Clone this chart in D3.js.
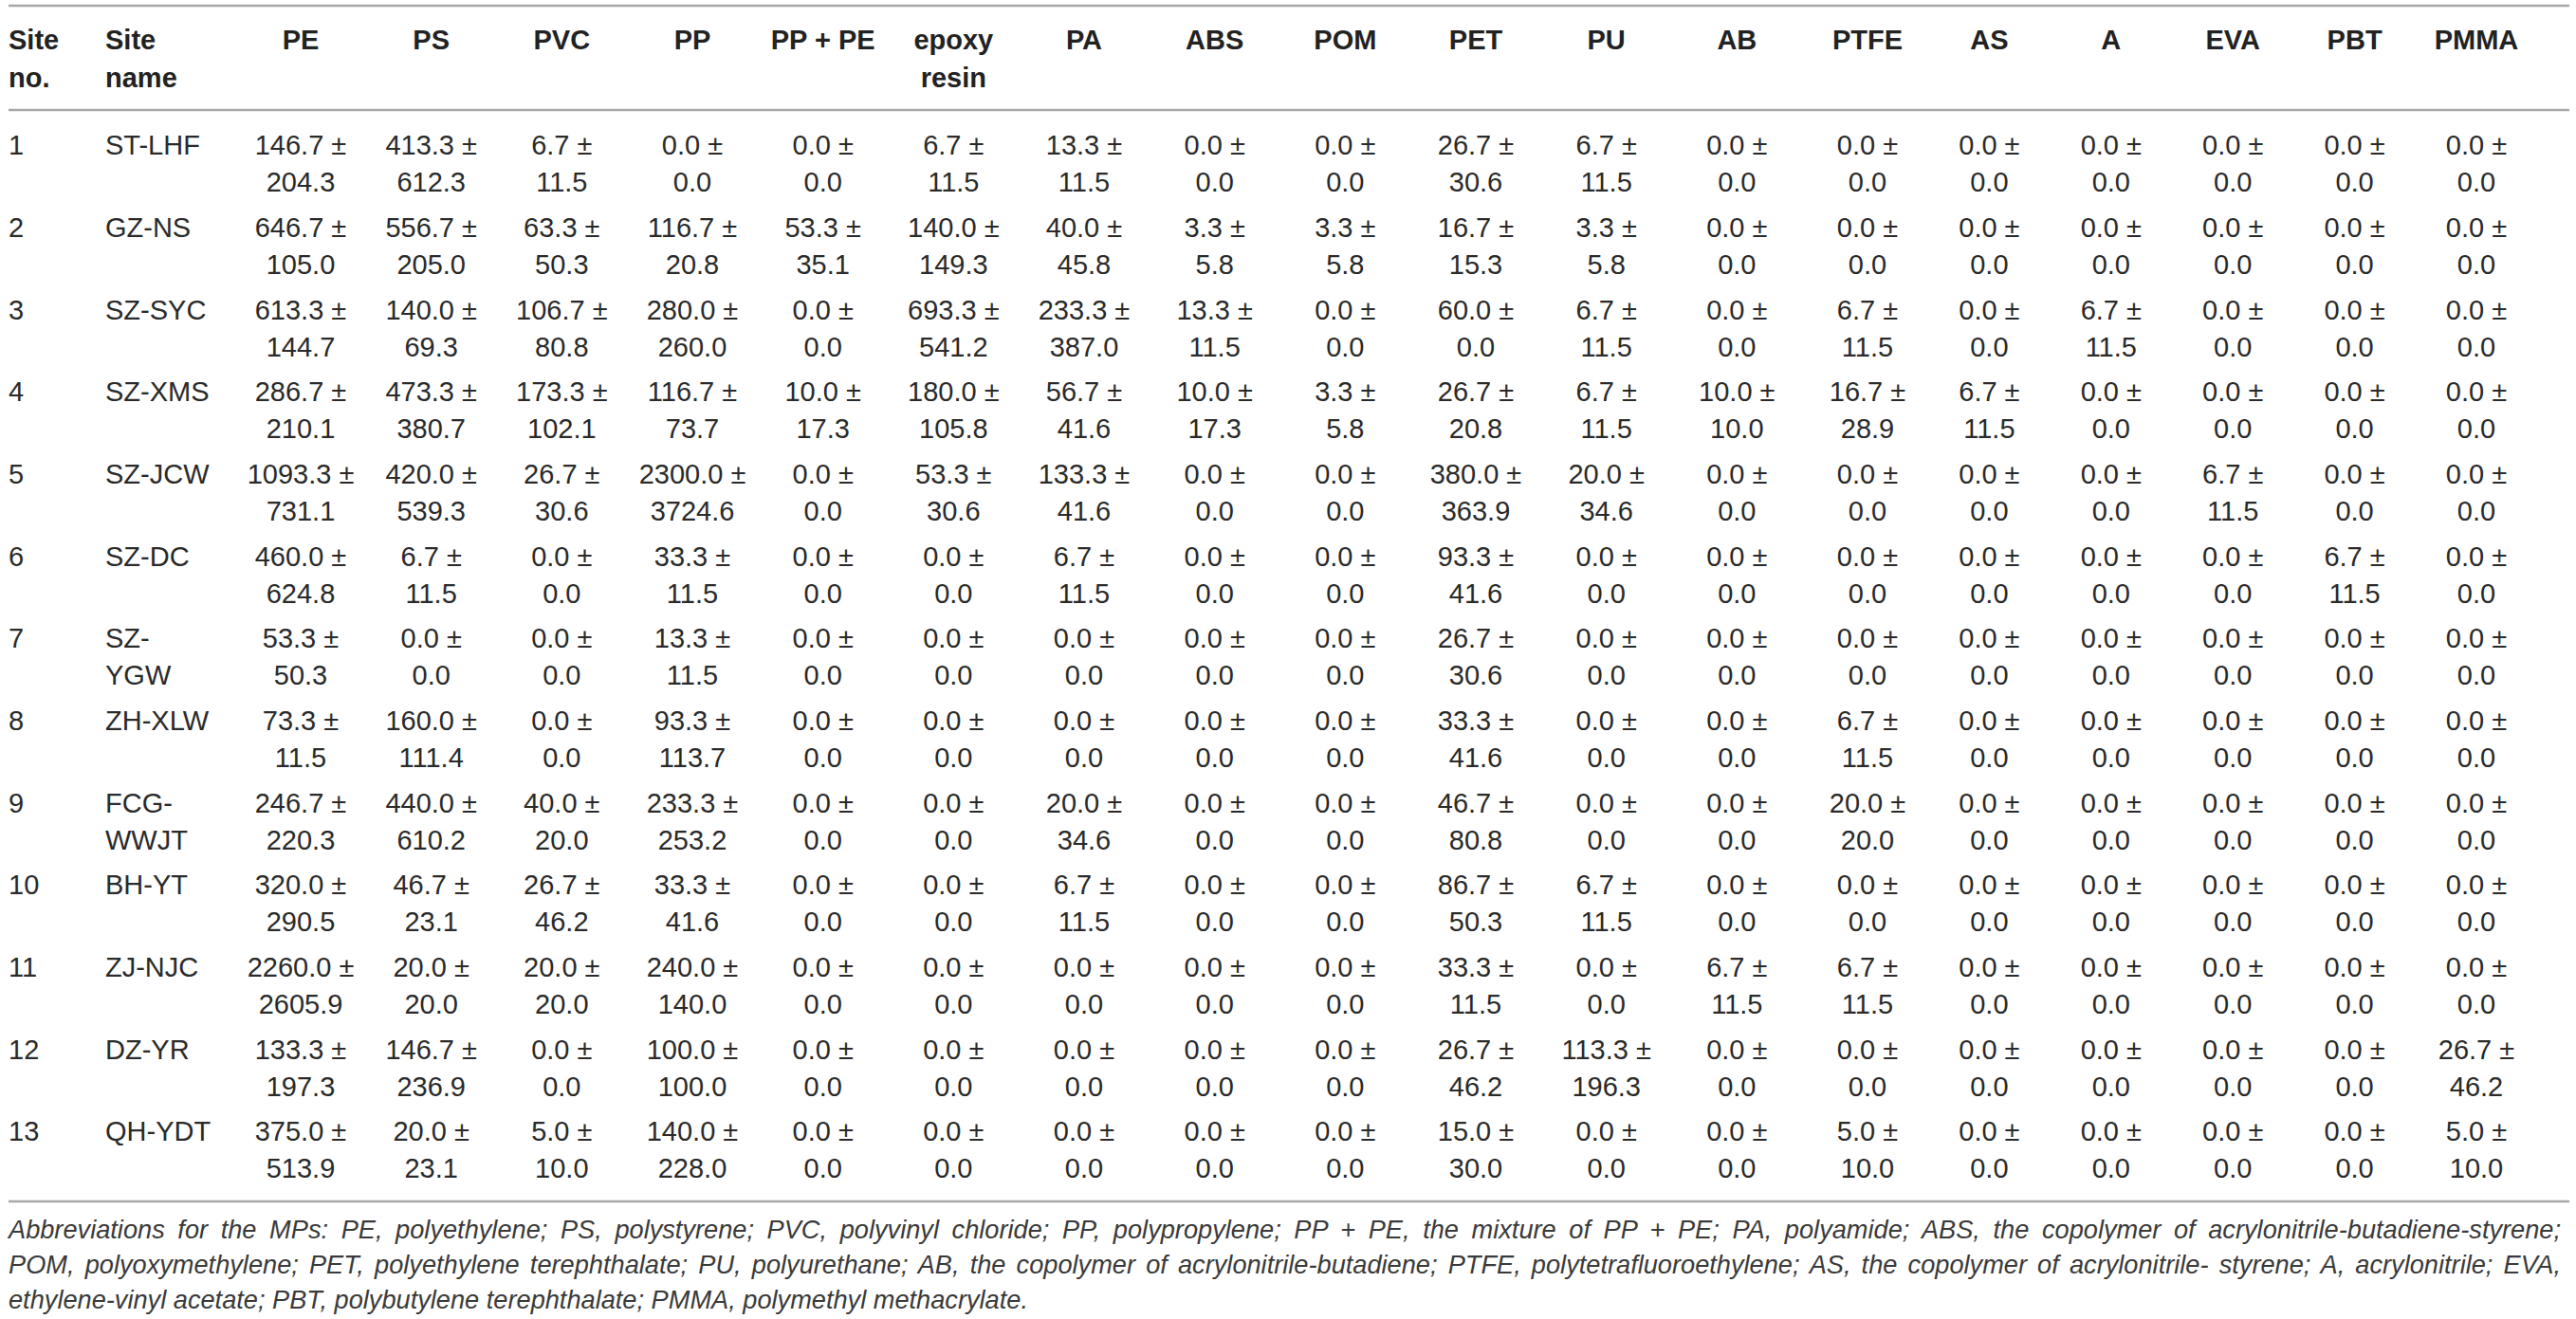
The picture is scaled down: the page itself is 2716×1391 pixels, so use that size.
<!DOCTYPE html>
<html lang="en">
<head>
  <meta charset="UTF-8" />
  <title>Microplastic abundance by site</title>
  <style>
    body { margin: 0; background: #fff; }
    svg { display: block; }
    text { font-family: "Liberation Sans", Arial, sans-serif; fill: #2a2a2a; }
    .head { font-weight: bold; font-size: 29px; fill: #222; }
    .cell { font-size: 29px; }
    .note { font-size: 27.2px; font-style: italic; fill: #3a3a3a; }
    .rule { stroke: #a8a8a8; stroke-width: 2.5px; }
  </style>
</head>
<body>
  <svg></svg>
  <script src="https://d3js.org/d3.v7.min.js"></script>
  <script>
    const W = 2716, H = 1391;

    const siteNo = ["1", "2", "3", "4", "5", "6", "7", "8", "9", "10", "11", "12", "13"];
    const siteNames = ["ST-LHF", "GZ-NS", "SZ-SYC", "SZ-XMS", "SZ-JCW", "SZ-DC", "SZ-YGW",
      "ZH-XLW", "FCG-WWJT", "BH-YT", "ZJ-NJC", "DZ-YR", "QH-YDT"];
    const polymers = ["PE", "PS", "PVC", "PP", "PP + PE", "epoxy resin", "PA", "ABS", "POM",
      "PET", "PU", "AB", "PTFE", "AS", "A", "EVA", "PBT", "PMMA"];

    // mean values, one row per site, columns in the order of `polymers`
    const means = [
      [146.7, 413.3, 6.7, 0.0, 0.0, 6.7, 13.3, 0.0, 0.0, 26.7, 6.7, 0.0, 0.0, 0.0, 0.0, 0.0, 0.0, 0.0],
      [646.7, 556.7, 63.3, 116.7, 53.3, 140.0, 40.0, 3.3, 3.3, 16.7, 3.3, 0.0, 0.0, 0.0, 0.0, 0.0, 0.0, 0.0],
      [613.3, 140.0, 106.7, 280.0, 0.0, 693.3, 233.3, 13.3, 0.0, 60.0, 6.7, 0.0, 6.7, 0.0, 6.7, 0.0, 0.0, 0.0],
      [286.7, 473.3, 173.3, 116.7, 10.0, 180.0, 56.7, 10.0, 3.3, 26.7, 6.7, 10.0, 16.7, 6.7, 0.0, 0.0, 0.0, 0.0],
      [1093.3, 420.0, 26.7, 2300.0, 0.0, 53.3, 133.3, 0.0, 0.0, 380.0, 20.0, 0.0, 0.0, 0.0, 0.0, 6.7, 0.0, 0.0],
      [460.0, 6.7, 0.0, 33.3, 0.0, 0.0, 6.7, 0.0, 0.0, 93.3, 0.0, 0.0, 0.0, 0.0, 0.0, 0.0, 6.7, 0.0],
      [53.3, 0.0, 0.0, 13.3, 0.0, 0.0, 0.0, 0.0, 0.0, 26.7, 0.0, 0.0, 0.0, 0.0, 0.0, 0.0, 0.0, 0.0],
      [73.3, 160.0, 0.0, 93.3, 0.0, 0.0, 0.0, 0.0, 0.0, 33.3, 0.0, 0.0, 6.7, 0.0, 0.0, 0.0, 0.0, 0.0],
      [246.7, 440.0, 40.0, 233.3, 0.0, 0.0, 20.0, 0.0, 0.0, 46.7, 0.0, 0.0, 20.0, 0.0, 0.0, 0.0, 0.0, 0.0],
      [320.0, 46.7, 26.7, 33.3, 0.0, 0.0, 6.7, 0.0, 0.0, 86.7, 6.7, 0.0, 0.0, 0.0, 0.0, 0.0, 0.0, 0.0],
      [2260.0, 20.0, 20.0, 240.0, 0.0, 0.0, 0.0, 0.0, 0.0, 33.3, 0.0, 6.7, 6.7, 0.0, 0.0, 0.0, 0.0, 0.0],
      [133.3, 146.7, 0.0, 100.0, 0.0, 0.0, 0.0, 0.0, 0.0, 26.7, 113.3, 0.0, 0.0, 0.0, 0.0, 0.0, 0.0, 26.7],
      [375.0, 20.0, 5.0, 140.0, 0.0, 0.0, 0.0, 0.0, 0.0, 15.0, 0.0, 0.0, 5.0, 0.0, 0.0, 0.0, 0.0, 5.0]
    ];

    // standard deviations, same layout
    const sds = [
      [204.3, 612.3, 11.5, 0.0, 0.0, 11.5, 11.5, 0.0, 0.0, 30.6, 11.5, 0.0, 0.0, 0.0, 0.0, 0.0, 0.0, 0.0],
      [105.0, 205.0, 50.3, 20.8, 35.1, 149.3, 45.8, 5.8, 5.8, 15.3, 5.8, 0.0, 0.0, 0.0, 0.0, 0.0, 0.0, 0.0],
      [144.7, 69.3, 80.8, 260.0, 0.0, 541.2, 387.0, 11.5, 0.0, 0.0, 11.5, 0.0, 11.5, 0.0, 11.5, 0.0, 0.0, 0.0],
      [210.1, 380.7, 102.1, 73.7, 17.3, 105.8, 41.6, 17.3, 5.8, 20.8, 11.5, 10.0, 28.9, 11.5, 0.0, 0.0, 0.0, 0.0],
      [731.1, 539.3, 30.6, 3724.6, 0.0, 30.6, 41.6, 0.0, 0.0, 363.9, 34.6, 0.0, 0.0, 0.0, 0.0, 11.5, 0.0, 0.0],
      [624.8, 11.5, 0.0, 11.5, 0.0, 0.0, 11.5, 0.0, 0.0, 41.6, 0.0, 0.0, 0.0, 0.0, 0.0, 0.0, 11.5, 0.0],
      [50.3, 0.0, 0.0, 11.5, 0.0, 0.0, 0.0, 0.0, 0.0, 30.6, 0.0, 0.0, 0.0, 0.0, 0.0, 0.0, 0.0, 0.0],
      [11.5, 111.4, 0.0, 113.7, 0.0, 0.0, 0.0, 0.0, 0.0, 41.6, 0.0, 0.0, 11.5, 0.0, 0.0, 0.0, 0.0, 0.0],
      [220.3, 610.2, 20.0, 253.2, 0.0, 0.0, 34.6, 0.0, 0.0, 80.8, 0.0, 0.0, 20.0, 0.0, 0.0, 0.0, 0.0, 0.0],
      [290.5, 23.1, 46.2, 41.6, 0.0, 0.0, 11.5, 0.0, 0.0, 50.3, 11.5, 0.0, 0.0, 0.0, 0.0, 0.0, 0.0, 0.0],
      [2605.9, 20.0, 20.0, 140.0, 0.0, 0.0, 0.0, 0.0, 0.0, 11.5, 0.0, 11.5, 11.5, 0.0, 0.0, 0.0, 0.0, 0.0],
      [197.3, 236.9, 0.0, 100.0, 0.0, 0.0, 0.0, 0.0, 0.0, 46.2, 196.3, 0.0, 0.0, 0.0, 0.0, 0.0, 0.0, 46.2],
      [513.9, 23.1, 10.0, 228.0, 0.0, 0.0, 0.0, 0.0, 0.0, 30.0, 0.0, 0.0, 10.0, 0.0, 0.0, 0.0, 0.0, 10.0]
    ];

    const notes = [
      "Abbreviations for the MPs: PE, polyethylene; PS, polystyrene; PVC, polyvinyl chloride; PP, polypropylene; PP + PE, the mixture of PP + PE; PA, polyamide; ABS, the copolymer of acrylonitrile-butadiene-styrene;",
      "POM, polyoxymethylene; PET, polyethylene terephthalate; PU, polyurethane; AB, the copolymer of acrylonitrile-butadiene; PTFE, polytetrafluoroethylene; AS, the copolymer of acrylonitrile- styrene; A, acrylonitrile; EVA,",
      "ethylene-vinyl acetate; PBT, polybutylene terephthalate; PMMA, polymethyl methacrylate."
    ];

    const svg = d3.select("svg").attr("width", W).attr("height", H);

    const left = 9, right = 2709;
    const noX = left, nameX = 111;
    // value columns get narrower after PTFE
    const x = d3.scaleLinear().domain([0, 12, 17]).range([317, 1969, 2611]);
    const y = d3.scaleLinear().domain([0, 12]).range([153, 1193]);
    const lineGap = 39;
    const fmt = d3.format(".1f");

    // rules
    svg.selectAll("line.rule")
      .data([6, 116, 1267])
      .enter().append("line")
      .attr("class", "rule")
      .attr("x1", left).attr("x2", right)
      .attr("y1", d => d).attr("y2", d => d);

    // header: wrap words greedily inside the column
    function wrapWords(label, maxW, cls) {
      const probe = svg.append("text").attr("class", cls);
      const words = label.split(" ");
      const lines = [];
      let cur = "";
      words.forEach(w => {
        const test = cur ? cur + " " + w : w;
        probe.text(test);
        if (cur && probe.node().getComputedTextLength() > maxW) {
          lines.push(cur);
          cur = w;
        } else {
          cur = test;
        }
      });
      lines.push(cur);
      probe.remove();
      return lines;
    }

    const headers = [
      { label: "Site no.", x: noX, anchor: "start", maxW: 85 },
      { label: "Site name", x: nameX, anchor: "start", maxW: 130 }
    ].concat(polymers.map((p, i) => ({ label: p, x: x(i), anchor: "middle", maxW: 122 })));

    const head = svg.append("g");
    headers.forEach(h => {
      const t = head.append("text")
        .attr("class", "head")
        .attr("text-anchor", h.anchor);
      wrapWords(h.label, h.maxW, "head").forEach((ln, k) => {
        t.append("tspan").attr("x", h.x).attr("y", 42 + k * 40).attr("dy", "0.36em").text(ln);
      });
    });

    // site names break after the hyphen when too wide
    function splitName(name) {
      const probe = svg.append("text").attr("class", "cell").text(name);
      const w = probe.node().getComputedTextLength();
      probe.remove();
      if (w <= 113) return [name];
      const i = name.indexOf("-");
      return [name.slice(0, i + 1), name.slice(i + 1)];
    }

    const body = svg.append("g");
    const rows = body.selectAll("g.row")
      .data(siteNames.map((name, i) => ({ i, no: siteNo[i], name, mean: means[i], sd: sds[i] })))
      .enter().append("g").attr("class", "row");

    rows.append("text")
      .attr("class", "cell")
      .attr("x", noX)
      .attr("y", d => y(d.i))
      .attr("dy", "0.36em")
      .text(d => d.no);

    rows.append("text")
      .attr("class", "cell")
      .each(function (d) {
        const t = d3.select(this);
        splitName(d.name).forEach((ln, k) => {
          t.append("tspan").attr("x", nameX).attr("y", y(d.i) + k * lineGap).attr("dy", "0.36em").text(ln);
        });
      });

    rows.each(function (d) {
      const g = d3.select(this);
      const cells = g.selectAll("text.val")
        .data(d.mean.map((m, j) => ({ j, m, s: d.sd[j] })))
        .enter().append("text")
        .attr("class", "cell val")
        .attr("text-anchor", "middle");
      cells.append("tspan")
        .attr("x", c => x(c.j)).attr("y", y(d.i)).attr("dy", "0.36em")
        .text(c => fmt(c.m) + " \u00b1");
      cells.append("tspan")
        .attr("x", c => x(c.j)).attr("y", y(d.i) + lineGap).attr("dy", "0.36em")
        .text(c => fmt(c.s));
    });

    // footnote, justified by word spacing except the last line
    const noteRight = 2700;
    const noteY = d3.scaleLinear().domain([0, 2]).range([1296, 1370]);
    notes.forEach((line, i) => {
      const t = svg.append("text")
        .attr("class", "note")
        .attr("x", left)
        .attr("y", noteY(i))
        .attr("dy", "0.36em")
        .text(line);
      if (i < notes.length - 1) {
        const w = t.node().getComputedTextLength();
        const gaps = line.split(" ").length - 1;
        const extra = Math.max(0, (noteRight - left - w) / gaps);
        t.style("word-spacing", extra + "px");
      }
    });
  </script>
</body>
</html>
